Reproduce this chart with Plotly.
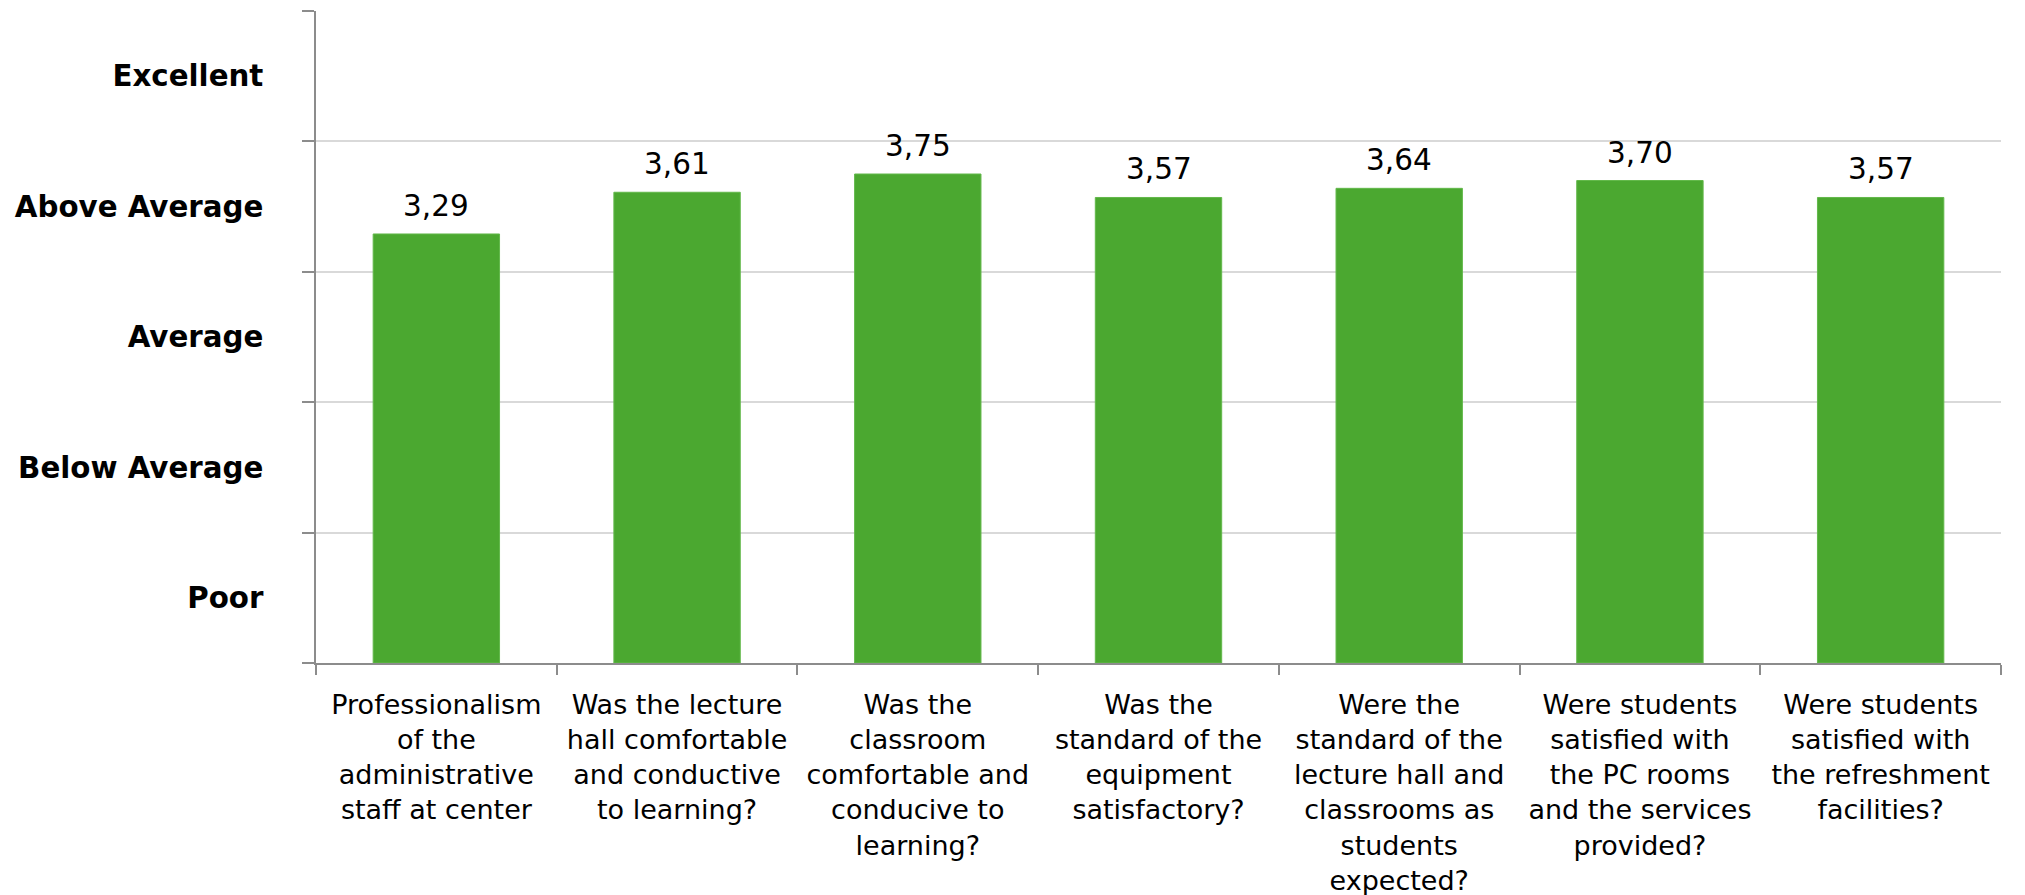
import plotly.graph_objects as go

categories = [
    "Professionalism<br>of the<br>administrative<br>staff at center",
    "Was the lecture<br>hall comfortable<br>and conductive<br>to learning?",
    "Was the<br>classroom<br>comfortable and<br>conducive to<br>learning?",
    "Was the<br>standard of the<br>equipment<br>satisfactory?",
    "Were the<br>standard of the<br>lecture hall and<br>classrooms as<br>students<br>expected?",
    "Were students<br>satisfied with<br>the PC rooms<br>and the services<br>provided?",
    "Were students<br>satisfied with<br>the refreshment<br>facilities?",
]
values = [3.29, 3.61, 3.75, 3.57, 3.64, 3.70, 3.57]
rating_positions = [0.5, 1.5, 2.5, 3.5, 4.5]
rating_labels = ["Poor", "Below Average", "Average", "Above Average", "Excellent"]

FONT = "DejaVu Sans, Verdana, sans-serif"
AXIS_GRAY = "#8c8c8c"
GRID_GRAY = "#d9d9d9"
BAR_GREEN = "#4ba830"

fig = go.Figure()
fig.add_trace(go.Bar(
    x=categories,
    y=values,
    marker=dict(color=BAR_GREEN, line=dict(color="#62b84a", width=1)),
    hoverinfo="skip",
))

for c, v in zip(categories, values):
    fig.add_annotation(
        x=c, y=v, text=f"{v:.2f}".replace(".", ","),
        showarrow=False, yanchor="bottom", yshift=9,
        font=dict(family=FONT, size=29.5, color="black"),
    )

fig.update_layout(
    width=2025, height=895,
    margin=dict(l=308, r=32, t=3, b=240),
    plot_bgcolor="white", paper_bgcolor="white",
    bargap=0.475,
    showlegend=False,
    font=dict(family=FONT, color="black"),
)

fig.update_xaxes(
    type="category",
    range=[-0.5, 6.5],
    automargin=False,
    showline=True, linecolor=AXIS_GRAY, linewidth=1.5,
    ticks="outside", tickson="boundaries", ticklen=10, tickcolor=AXIS_GRAY, tickwidth=1.5,
    showgrid=False,
    tickfont=dict(family=FONT, size=27, color="black"),
    ticklabelstandoff=17,
    tickangle=0,
)

fig.update_yaxes(
    range=[0, 5],
    automargin=False,
    showline=True, linecolor=AXIS_GRAY, linewidth=1.5,
    tickmode="array", tickvals=rating_positions, ticktext=[f"<b>{t}</b>" for t in rating_labels],
    ticks="", showgrid=False, zeroline=False,
    tickfont=dict(family=FONT, size=29.3, color="black"),
    ticklabelstandoff=45,
    minor=dict(tick0=0, dtick=1, ticks="outside", ticklen=12, tickcolor=AXIS_GRAY, tickwidth=1.5,
               showgrid=True, gridcolor=GRID_GRAY, gridwidth=1.5),
)

fig.write_html("out.html")
